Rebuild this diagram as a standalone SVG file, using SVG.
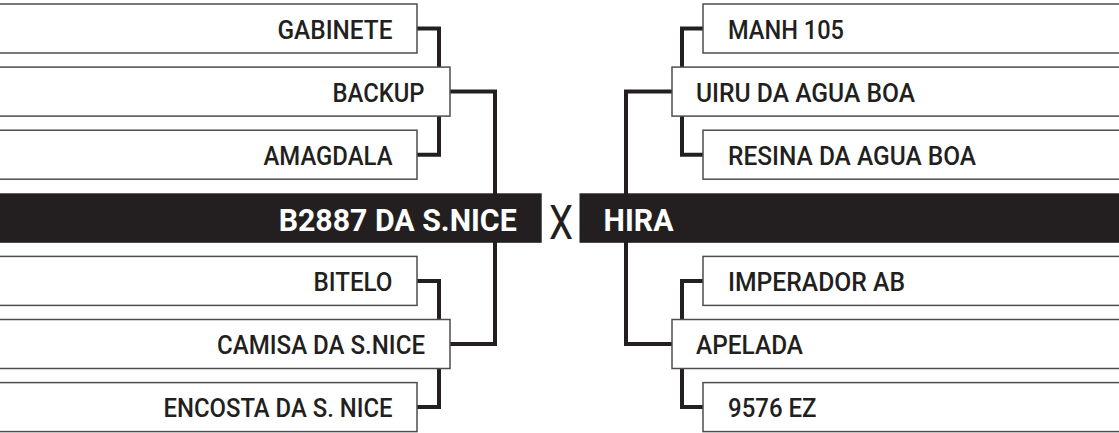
<svg xmlns="http://www.w3.org/2000/svg" width="1119" height="433" viewBox="0 0 1119 433">
<style>
.box{fill:#ffffff;stroke:#4d4d4d;stroke-width:1.5}
.bar{fill:#231f20}
.conn{fill:none;stroke:#231f20;stroke-width:4;stroke-linejoin:miter}
.lbl{font-family:Roboto,"Liberation Sans",sans-serif;font-weight:500;font-size:25px;fill:#231f20}
.l{text-anchor:end}
.big{font-family:Roboto,"Liberation Sans",sans-serif;font-weight:700;font-size:31px;fill:#ffffff}
.vs{font-family:Roboto,"Liberation Sans",sans-serif;font-weight:400;font-size:49px;fill:#231f20}
</style>
<rect width="1119" height="433" fill="#ffffff"/>
<g id="connectors">
<path class="conn" d="M417,28.5 H439 V154.7 H417"/>
<path class="conn" d="M450,91.6 H495 V344 H450"/>
<path class="conn" d="M417,280.9 H439 V407.1 H417"/>
<path class="conn" d="M703,28.5 H682 V154.7 H703"/>
<path class="conn" d="M672,91.6 H626 V344 H672"/>
<path class="conn" d="M703,280.9 H682 V407.1 H703"/>
</g>
<g id="n-gabinete"><rect class="box" x="-5" y="4" width="422" height="49"/><text class="lbl l" x="392.5" y="38.5" textLength="115" lengthAdjust="spacingAndGlyphs">GABINETE</text></g>
<g id="n-backup"><rect class="box" x="-5" y="67.1" width="455" height="49"/><text class="lbl l" x="424.5" y="101.6" textLength="92" lengthAdjust="spacingAndGlyphs">BACKUP</text></g>
<g id="n-amagdala"><rect class="box" x="-5" y="130.2" width="422" height="49"/><text class="lbl l" x="392.5" y="164.7" textLength="129" lengthAdjust="spacingAndGlyphs">AMAGDALA</text></g>
<g id="n-b2887"><rect class="bar" x="-5" y="193.3" width="546.7" height="49.5"/><text class="big l" x="516.7" y="231" textLength="238" lengthAdjust="spacingAndGlyphs">B2887 DA S.NICE</text></g>
<g id="n-bitelo"><rect class="box" x="-5" y="256.4" width="422" height="49"/><text class="lbl l" x="392.5" y="290.9" textLength="79" lengthAdjust="spacingAndGlyphs">BITELO</text></g>
<g id="n-camisa"><rect class="box" x="-5" y="319.5" width="455" height="49"/><text class="lbl l" x="425" y="354" textLength="208" lengthAdjust="spacingAndGlyphs">CAMISA DA S.NICE</text></g>
<g id="n-encosta"><rect class="box" x="-5" y="382.6" width="422" height="49"/><text class="lbl l" x="392.5" y="417.1" textLength="229" lengthAdjust="spacingAndGlyphs">ENCOSTA DA S. NICE</text></g>
<g id="vs"><text class="vs" x="549" y="238.5" textLength="24" lengthAdjust="spacingAndGlyphs">X</text></g>
<g id="n-manh"><rect class="box" x="703" y="4" width="422" height="49"/><text class="lbl" x="728" y="38.5" textLength="116" lengthAdjust="spacingAndGlyphs">MANH 105</text></g>
<g id="n-uiru"><rect class="box" x="672" y="67.1" width="455" height="49"/><text class="lbl" x="696" y="101.6" textLength="219" lengthAdjust="spacingAndGlyphs">UIRU DA AGUA BOA</text></g>
<g id="n-resina"><rect class="box" x="703" y="130.2" width="422" height="49"/><text class="lbl" x="728" y="164.7" textLength="248" lengthAdjust="spacingAndGlyphs">RESINA DA AGUA BOA</text></g>
<g id="n-hira"><rect class="bar" x="579.5" y="193.3" width="545" height="49.5"/><text class="big" x="603.5" y="231" textLength="70" lengthAdjust="spacingAndGlyphs">HIRA</text></g>
<g id="n-imperador"><rect class="box" x="703" y="256.4" width="422" height="49"/><text class="lbl" x="728" y="290.9" textLength="177" lengthAdjust="spacingAndGlyphs">IMPERADOR AB</text></g>
<g id="n-apelada"><rect class="box" x="672" y="319.5" width="455" height="49"/><text class="lbl" x="696" y="354" textLength="107" lengthAdjust="spacingAndGlyphs">APELADA</text></g>
<g id="n-9576"><rect class="box" x="703" y="382.6" width="422" height="49"/><text class="lbl" x="728" y="417.1" textLength="88.5" lengthAdjust="spacingAndGlyphs">9576 EZ</text></g>
</svg>
